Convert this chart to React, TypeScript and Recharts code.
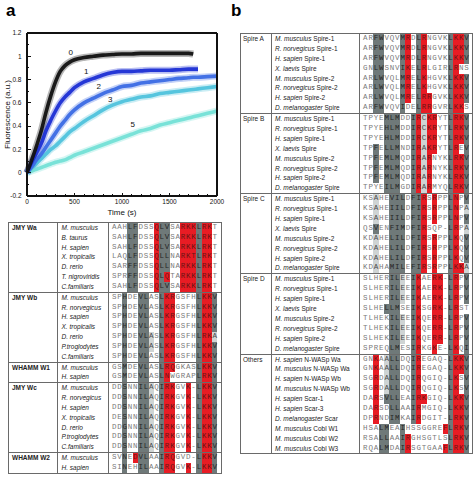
import React from 'react';
import { ComposedChart, Line, XAxis, YAxis, ReferenceDot } from 'recharts';

// panel a: fluorescence traces
const times = [0, 50, 100, 150, 200, 250, 300, 350, 400, 450, 500, 600, 700, 800, 900, 1000, 1100, 1200, 1300, 1400, 1500, 1600, 1700, 1750, 1800, 1900, 2000];
const trace0 = [0, 0.11, 0.23, 0.36, 0.52, 0.66, 0.78, 0.87, 0.92, 0.95, 0.97, 0.99, 1.0, 1.01, 1.015, 1.02, 1.02, 1.025, 1.025, 1.025, 1.025, 1.025, 1.025, 1.02, null, null, null];
const trace1 = [0, 0.09, 0.17, 0.25, 0.36, 0.45, 0.53, 0.6, 0.65, 0.69, 0.73, 0.78, 0.81, 0.84, 0.86, 0.87, 0.87, 0.875, 0.88, 0.88, 0.88, 0.885, 0.89, 0.89, 0.89, null, null];
const trace2 = [0, 0.05, 0.11, 0.16, 0.22, 0.28, 0.34, 0.4, 0.45, 0.5, 0.54, 0.6, 0.64, 0.68, 0.71, 0.74, 0.75, 0.77, 0.78, 0.79, 0.8, 0.81, 0.815, 0.82, 0.82, 0.825, 0.83];
const trace3 = [0, 0.04, 0.08, 0.12, 0.16, 0.2, 0.23, 0.27, 0.31, 0.35, 0.38, 0.44, 0.49, 0.54, 0.58, 0.61, 0.63, 0.65, 0.66, 0.68, 0.69, 0.7, 0.71, 0.715, 0.72, 0.73, 0.74];
const trace5 = [0, 0.015, 0.03, 0.045, 0.06, 0.075, 0.09, 0.1, 0.11, 0.13, 0.15, 0.18, 0.21, 0.24, 0.27, 0.3, 0.33, 0.36, 0.38, 0.41, 0.43, 0.45, 0.47, 0.48, 0.49, 0.51, 0.53];

const traceNames = ['0', '1', '2', '3', '5'];
const traceColors = ['#111111', '#1c2fd4', '#3c6be4', '#4fc3dc', '#74e0d6'];
const labelTimes = [459, 624, 754, 877, 1112];
const labelValues = [1.037, 0.868, 0.742, 0.63, 0.42];

const xTicks = [0, 500, 1000, 1500, 2000];
const yTicks = [-0.2, 0, 0.2, 0.4, 0.6, 0.8, 1, 1.2];
const xAllTicks = [0, 100, 200, 300, 400, 500, 600, 700, 800, 900, 1000, 1100, 1200, 1300, 1400, 1500, 1600, 1700, 1800, 1900, 2000];
const yAllTicks = [-0.2, -0.1, 0, 0.1, 0.2, 0.3, 0.4, 0.5, 0.6, 0.7, 0.8, 0.9, 1, 1.1, 1.2];

const traces = [trace0, trace1, trace2, trace3, trace5];
const chartData = times.map((t, i) => {
  const row: Record<string, number | null> = { t };
  traces.forEach((tr, k) => { row['s' + k] = tr[i]; });
  return row;
});

// sequence alignments  [species, suffix, sequence, highlight mask]
type SeqRow = [string, string, string, string];

const maskWa = '...GG...RGG..RRRGRR.';
const jmyWa: SeqRow[] = [
  ['M. musculus', '', 'AAHLFDSSQLVSARKKLRKT', maskWa],
  ['B. taurus', '', 'SAHLFDSSQLVSARKKLRKT', maskWa],
  ['H. sapien', '', 'SAHLFDSSQLVSARKKLRKT', maskWa],
  ['X. tropicalis', '', 'LAQLFDSSQLLNARKTLRKT', maskWa],
  ['D. rerio', '', 'SARFFDSSQLLNARKKLRKT', maskWa],
  ['T. nigroviridis', '', 'SPRFFDSSQLQTARKKLRKT', '...GG...RGR..RRRGRR.'],
  ['C.familiaris', '', 'SAHLFDSSQLVSARKKLRKT', maskWa],
];
const maskWb = '..G..GG..GRR....GRRG';
const jmyWb: SeqRow[] = [
  ['M. musculus', '', 'SPHDEVLASLKRGSFHLKKV', maskWb],
  ['R. norvegicus', '', 'SPHDEVLASLKRGSFHLKKV', maskWb],
  ['H. sapien', '', 'SPHDEVLASLKRGSFHLKKV', maskWb],
  ['X. tropicalis', '', 'SPHDEVLASLKRGSFHLKKV', maskWb],
  ['D. rerio', '', 'SPHDEVLASLKRGSFHLRKA', '..G..GGL.GRR....GRRL'],
  ['P.troglodytes', '', 'SPHDEVLASLKRGSFHLKKV', '..G..GGL.GRR....GRRG'],
  ['C.familiaris', '', 'SPHDEVLASLKRGSFHLKKV', maskWb],
];
const whammW1: SeqRow[] = [
  ['M. musculus', '', 'GSMDEVLASLRQGKASLKKV', '..G..GG..GRR....GRRG'],
  ['H. sapien', '', 'GSMDEVLASLNWGRAPLRKV', '..G..GG..GR.....GRRG'],
];
const maskWc = '..G..GGL.GRR..R.GRRG';
const jmyWc: SeqRow[] = [
  ['M. musculus', '', 'DDSNNILAQIRKGVK-LKKV', maskWc],
  ['R. norvegicus', '', 'DDSNNILAQIRKGVK-LKKV', maskWc],
  ['H. sapien', '', 'DDSNNILAQIRKGVK-LKKV', maskWc],
  ['X. tropicalis', '', 'DESNNILAQIRKGVK-LKKV', maskWc],
  ['D. rerio', '', 'DDGNNILAQIRKGVK-LKKV', maskWc],
  ['P.troglodytes', '', 'DDSNNILAQIRKGVK-LKKV', maskWc],
  ['C.familiaris', '', 'DDSNNILAQIRKGVK-LKKV', maskWc],
];
const whammW2: SeqRow[] = [
  ['M. musculus', '', 'SVNEDVLAAIRQGVD-LKKV', '..G.RGG..GRR....GRRG'],
  ['H. sapien', '', 'SINEHILAAIRQGVK-LKKV', '..G..GG..GRR..R.GRRG'],
];

const maskSpA = '..GG...GR.GR....GRRG';
const spireA: SeqRow[] = [
  ['M. musculus', ' Spire-1', 'ARFWVQVMRDLRNGVKLKKV', maskSpA],
  ['R. norvegicus', ' Spire-1', 'ARFWVQVMRDLRNGVKLKKV', maskSpA],
  ['H. sapien', ' Spire-1', 'ARFWVQVMRDLRNGVKLKKV', maskSpA],
  ['X. laevis', ' Spire', 'GNLWSNVIKELRLGIRLRNS', '..GG...GR.GR....GR..'],
  ['M. musculus', ' Spire-2', 'ARLWVQLMRELKHGVKLKKV', maskSpA],
  ['R. norvegicus', ' Spire-2', 'ARLWVQLMRELKHGVKLKKV', maskSpA],
  ['H. sapien', ' Spire-2', 'ARLWVQLMRELRRGVKLKKV', '..GG...GR.GRR...GRRG'],
  ['D. melanogaster', ' Spire', 'ARFWVQVIDELRRGVRLKKS', '..GG...G..GRR...GRR.'],
];
const maskSpB = '....GGG..GRLRR..GRRG';
const maskSpB2 = '..G.GGG..GRLR...GRRG';
const spireB: SeqRow[] = [
  ['M. musculus', ' Spire-1', 'TPYEMLMDDIRCKRYTLRKV', maskSpB],
  ['R. norvegicus', ' Spire-1', 'TPYEHLMDDIRCKRYTLRKV', maskSpB],
  ['H. sapien', ' Spire-1', 'TPYEHLMDDIRCKRYTLRKV', maskSpB],
  ['X. laevis', ' Spire', 'TPFELLMNDIRAKRYTLREV', '..G.GGG..GRLRR..GR.G'],
  ['M. musculus', ' Spire-2', 'TPFEMLMQDIRARNYKLRKV', maskSpB2],
  ['R. norvegicus', ' Spire-2', 'TPFEMLMQDIRARNYKLRKV', maskSpB2],
  ['H. sapien', ' Spire-2', 'TPFEMLMQDIRARNYKLRKV', maskSpB2],
  ['D. melanogaster', ' Spire', 'TPYEILMGDIRARMYQLRKV', '....GGG..GRLR...GRRG'],
];
const maskSpC = '..L..GGG.GGR.R..GR.G';
const spireC: SeqRow[] = [
  ['M. musculus', ' Spire-1', 'KSAHEVILDFIRSRPPLNPV', maskSpC],
  ['R. norvegicus', ' Spire-1', 'KSAHEIILDFIRSRPPLNPA', '..L..GGG.GGR.R..GR.L'],
  ['H. sapien', ' Spire-1', 'KSAHEIILDFIRSRPPLNPV', maskSpC],
  ['X. laevis', ' Spire', 'QSVENFIMDFIRSQP-LRPA', '..G..GGG.GGR....GR.L'],
  ['M. musculus', ' Spire-2', 'KDAHELILDFIRSRPPLKQV', maskSpC],
  ['R. norvegicus', ' Spire-2', 'KDAHELILDFIRSRPPLKQV', maskSpC],
  ['H. sapien', ' Spire-2', 'KDAHELILDFIRSRPPLKQV', maskSpC],
  ['D. melanogaster', ' Spire', 'KDAHAMILEFIRSRPPLKKA', '..L..GGG.GGR.R..GRRL'],
];
const maskSpD = '.....GGL.GR..RR.GR.G';
const spireD: SeqRow[] = [
  ['M. musculus', ' Spire-1', 'SLHERILEEIKAERK-LRPV', maskSpD],
  ['R. norvegicus', ' Spire-1', 'SLHERILEEIKAERK-LRPV', maskSpD],
  ['H. sapien', ' Spire-1', 'SLHERILEEIKAERK-LRPV', maskSpD],
  ['X. laevis', ' Spire', 'SLHELLMSEIKSGRK-LRST', '....GGG..GR..RR.GR..'],
  ['M. musculus', ' Spire-2', 'TLHEKILEEIKQERR-LRPV', maskSpD],
  ['R. norvegicus', ' Spire-2', 'TLHEKILEEIKQERR-LRPV', maskSpD],
  ['H. sapien', ' Spire-2', 'SLHEKILEEIKQERR-LRPV', maskSpD],
  ['D. melanogaster', ' Spire', 'SPREQLMESIRKGKE-LKQI', '.....GG..GR..R..GR.G'],
];
const others: SeqRow[] = [
  ['H. sapien', ' N-WASp Wa', 'GNKAALLDQIREGAQ-LKKV', '..R.LGG..GR.....GRRG'],
  ['M. musculus', ' N-WASp Wa', 'GNKAALLDQIREGAQ-LKKV', '..R.LGG..GR.....GRRG'],
  ['H. sapien', ' N-WASp Wb', 'SGRDALLDQIRQGIQ-LKSV', '..R.LGG..GR.....GR.G'],
  ['M. musculus', ' N-WASp Wb', 'SGRDALLDQIRQGIQ-LKSV', '..R.LGG..GR.....GR.G'],
  ['H. sapien', ' Scar-1', 'DARSVLLEAIRKGIQ-LKKV', '..R.GGG..GRR....GRRG'],
  ['H. sapien', ' Scar-3', 'DARSDLLAAIRMGIQ-LKKV', '..R..GG..GR.....GRRG'],
  ['D. melanogaster', ' Scar', 'DPRNDIMKAIRDGIT-LRKV', '..R..GG..GR.....GRRG'],
  ['M. musculus', ' Cobl W1', 'HSALMEAIHSSGGREFLRKV', '...GG..G.......RGRRG'],
  ['M. musculus', ' Cobl W2', 'RSALLAAIRGHSGTLSLRKV', '...GG..GR.......GRRG'],
  ['M. musculus', ' Cobl W3', 'RQALMDAIRSGTGAAFLRKV', '...GG..GR......RGRRG'],
];

const leftGroups = [
  { label: 'JMY Wa', rows: jmyWa },
  { label: 'JMY Wb', rows: jmyWb },
  { label: 'WHAMM W1', rows: whammW1 },
  { label: 'JMY Wc', rows: jmyWc },
  { label: 'WHAMM W2', rows: whammW2 },
];
const rightGroups = [
  { label: 'Spire A', rows: spireA },
  { label: 'Spire B', rows: spireB },
  { label: 'Spire C', rows: spireC },
  { label: 'Spire D', rows: spireD },
  { label: 'Others', rows: others },
];

const cellBg: Record<string, string> = { R: '#e81c24', G: '#6f7979', L: '#cfd4d4', '.': 'transparent' };
const cellInk: Record<string, string> = { R: '#6a1414', G: '#262626', L: '#4a4a4a', '.': '#7a7a7a' };
const sans = '"Liberation Sans", Arial, sans-serif';
const border = '1px solid #6a6a6a';
const ink = '#111';

interface TableProps {
  groups: { label: string; rows: SeqRow[] }[];
  left: number;
  top: number;
  widths: [number, number, number];
  rowH: number;
  cellW: number;
  seqPad: number;
  namePad: number;
  bold: boolean;
}

function AlignTable({ groups, left, top, widths, rowH, cellW, seqPad, namePad, bold }: TableProps) {
  return (
    <div style={{ position: 'absolute', left, top, width: widths[0] + widths[1] + widths[2] + 2, border, boxSizing: 'border-box', background: '#fff' }}>
      {groups.map((g, gi) => (
        <div key={g.label} style={{ display: 'flex', borderTop: gi ? border : 'none' }}>
          <div style={{ width: widths[0], boxSizing: 'border-box', borderRight: border, paddingLeft: bold ? 3 : 2, fontFamily: sans, fontSize: 6.5, fontWeight: bold ? 'bold' : 'normal', lineHeight: rowH + 'px', color: '#222', whiteSpace: 'nowrap' }}>
            {g.label}
          </div>
          <div style={{ width: widths[1], boxSizing: 'border-box', borderRight: border }}>
            {g.rows.map((r, ri) => (
              <div key={ri} style={{ height: rowH, lineHeight: rowH + 'px', paddingLeft: namePad, fontFamily: sans, fontSize: 6.5, color: '#222', whiteSpace: 'nowrap' }}>
                <i>{r[0]}</i>{r[1]}
              </div>
            ))}
          </div>
          <div style={{ width: widths[2] }}>
            {g.rows.map((r, ri) => (
              <div key={ri} style={{ height: rowH, display: 'flex', paddingLeft: seqPad }}>
                {r[2].split('').map((ch, ci) => {
                  const m = r[3][ci] || '.';
                  return (
                    <span key={ci} style={{ display: 'inline-block', width: cellW, height: rowH, lineHeight: rowH + 'px', textAlign: 'center', background: cellBg[m], color: cellInk[m], fontFamily: '"Liberation Mono", "DejaVu Sans Mono", monospace', fontSize: 7.5 }}>
                      {ch}
                    </span>
                  );
                })}
              </div>
            ))}
          </div>
        </div>
      ))}
    </div>
  );
}

// frame ticks point inward on all four sides; labelled ticks are longer
const tickStroke = { stroke: ink, strokeWidth: 1, shapeRendering: 'crispEdges' as const };
const bottomTick = (p: any) => {
  const major = xTicks.includes(p.payload.value);
  return (
    <g>
      <line x1={p.x} x2={p.x} y1={p.y} y2={p.y - (major ? 3.5 : 2)} {...tickStroke} />
      {major && <text x={p.x} y={p.y + 8} textAnchor="middle" fontSize={6.5} fill={ink} fontFamily={sans}>{p.payload.value}</text>}
    </g>
  );
};
const topTick = (p: any) => {
  const major = xTicks.includes(p.payload.value);
  return <line x1={p.x} x2={p.x} y1={p.y} y2={p.y + (major ? 3.5 : 2)} {...tickStroke} />;
};
const leftTick = (p: any) => {
  const major = yTicks.includes(p.payload.value);
  return (
    <g>
      <line x1={p.x} x2={p.x + (major ? 3.5 : 2)} y1={p.y} y2={p.y} {...tickStroke} />
      {major && <text x={p.x - 5.5} y={p.y + 2.3} textAnchor="end" fontSize={6.5} fill={ink} fontFamily={sans}>{p.payload.value}</text>}
    </g>
  );
};
const rightTick = (p: any) => {
  const major = yTicks.includes(p.payload.value);
  return <line x1={p.x} x2={p.x - (major ? 3.5 : 2)} y1={p.y} y2={p.y} {...tickStroke} />;
};

export default function App() {
  const axisLine = { stroke: ink, strokeWidth: 1.2, shapeRendering: 'crispEdges' };
  return (
    <div style={{ position: 'absolute', left: 0, top: 0, width: 474, height: 487, overflow: 'hidden', background: '#fff', fontFamily: sans }}>
      <div style={{ position: 'absolute', left: 6, top: 2, fontSize: 17, fontWeight: 'bold', fontFamily: sans, lineHeight: '17px' }}>a</div>
      <div style={{ position: 'absolute', left: 231, top: 2, fontSize: 17, fontWeight: 'bold', fontFamily: sans, lineHeight: '17px' }}>b</div>

      <div style={{ position: 'absolute', left: 0, top: 0 }}>
        <ComposedChart width={230} height={220} data={chartData} margin={{ top: 32, right: 12, left: 0, bottom: 0 }}>
          <XAxis
            dataKey="t"
            type="number"
            domain={[0, 2000]}
            ticks={xAllTicks}
            interval={0}
            height={24}
            axisLine={axisLine}
            tickLine={false}
            tickSize={0}
            tickMargin={0}
            tick={bottomTick}
            label={{ value: 'Time (s)', position: 'insideBottom', offset: 5, fontSize: 8, fill: ink, fontFamily: sans }}
          />
          <XAxis
            xAxisId="top"
            orientation="top"
            type="number"
            domain={[0, 2000]}
            ticks={xAllTicks}
            interval={0}
            height={1}
            axisLine={axisLine}
            tickLine={false}
            tickSize={0}
            tickMargin={0}
            tick={topTick}
          />
          <YAxis
            type="number"
            domain={[-0.2, 1.2]}
            ticks={yAllTicks}
            interval={0}
            width={27}
            axisLine={axisLine}
            tickLine={false}
            tickSize={0}
            tickMargin={0}
            tick={leftTick}
            label={{ value: 'Fluorescence (a.u.)', angle: -90, position: 'insideLeft', offset: 7, fontSize: 8, fill: ink, fontFamily: sans, style: { textAnchor: 'middle' } }}
          />
          <YAxis
            yAxisId="right"
            orientation="right"
            type="number"
            domain={[-0.2, 1.2]}
            ticks={yAllTicks}
            interval={0}
            width={1}
            axisLine={axisLine}
            tickLine={false}
            tickSize={0}
            tickMargin={0}
            tick={rightTick}
          />
          {[4, 3, 2, 1, 0].map((k) => (
            <Line
              key={'h' + k}
              dataKey={'s' + k}
              type="monotone"
              stroke={traceColors[k]}
              strokeWidth={7}
              strokeOpacity={0.3}
              dot={false}
              isAnimationActive={false}
            />
          ))}
          {[4, 3, 2, 1, 0].map((k) => (
            <Line
              key={'c' + k}
              dataKey={'s' + k}
              type="monotone"
              stroke={traceColors[k]}
              strokeWidth={3.6}
              strokeOpacity={0.95}
              dot={false}
              isAnimationActive={false}
            />
          ))}
          {traceNames.map((n, k) => (
            <ReferenceDot key={n} x={labelTimes[k]} y={labelValues[k]} r={1} fill="none" stroke="none" label={{ value: n, position: 'center', fontSize: 8, fill: ink, fontFamily: sans }} />
          ))}
        </ComposedChart>
      </div>

      <AlignTable groups={leftGroups} left={8} top={222} widths={[49, 51, 112]} rowH={9.84} cellW={5.3} seqPad={2.5} namePad={3.5} bold />
      <AlignTable groups={rightGroups} left={240} top={33} widths={[31, 88, 112]} rowH={9.9} cellW={5.33} seqPad={2.7} namePad={3} bold={false} />
    </div>
  );
}
